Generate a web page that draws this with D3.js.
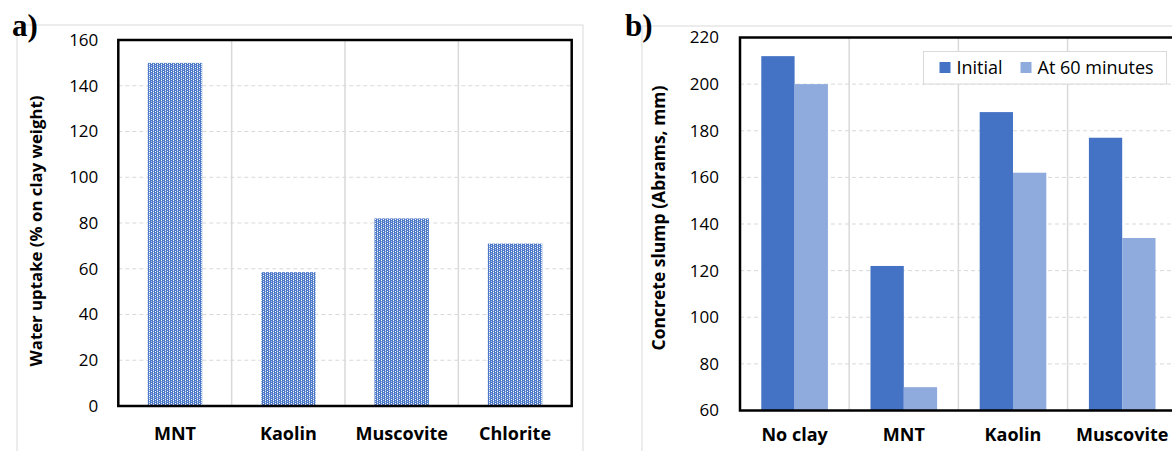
<!DOCTYPE html>
<html>
<head>
<meta charset="utf-8">
<script src="https://cdn.jsdelivr.net/npm/d3@7"></script>
<style>
  body { margin: 0; background: #ffffff; }
  svg { display: block; }
  text { font-family: "Open Sans", "Noto Sans", sans-serif; fill: #000; }
</style>
</head>
<body>
<svg id="chart" width="1172" height="451"></svg>
<script>
// Panel a: water uptake of each clay
const uptakeCategories = ["MNT", "Kaolin", "Muscovite", "Chlorite"];
const uptakeValues = [150, 58.5, 82, 71];
const uptakeTicks = [0, 20, 40, 60, 80, 100, 120, 140, 160];

// Panel b: concrete slump, initial and after 60 minutes
const slumpCategories = ["No clay", "MNT", "Kaolin", "Muscovite"];
const slumpSeries = ["Initial", "At 60 minutes"];
const slumpInitial = [212, 122, 188, 177];
const slumpAt60 = [200, 70, 162, 134];
const slumpTicks = [60, 80, 100, 120, 140, 160, 180, 200, 220];

const svg = d3.select("#chart");
const gridColor = "#d9d9d9";
const seriesColor = d3.scaleOrdinal().domain(slumpSeries).range(["#4472c4", "#8faadc"]);

// dotted-grid fill used by the water-uptake bars
const defs = svg.append("defs");
const pat = defs.append("pattern")
  .attr("id", "dotted")
  .attr("patternUnits", "userSpaceOnUse")
  .attr("width", 4).attr("height", 4);
pat.append("rect").attr("width", 4).attr("height", 4).attr("fill", "#4a78c7");
pat.append("rect").attr("x", 1).attr("y", 0).attr("width", 1).attr("height", 4).attr("fill", "#7d9fd9");
pat.append("rect").attr("x", 1).attr("y", 0).attr("width", 1).attr("height", 1).attr("fill", "#ffffff");
pat.append("rect").attr("x", 1).attr("y", 2).attr("width", 1).attr("height", 1).attr("fill", "#dfe7f6");
pat.append("rect").attr("x", 3).attr("y", 1).attr("width", 1).attr("height", 1).attr("fill", "#b4c7ea");
pat.append("rect").attr("x", 3).attr("y", 3).attr("width", 1).attr("height", 1).attr("fill", "#ffffff");

// ---------- Panel a ----------
const A = { left: 118.3, right: 571.7, top: 40, bottom: 406 };

svg.append("rect")
  .attr("x", 17).attr("y", 25).attr("width", 566).attr("height", 440)
  .attr("fill", "none").attr("stroke", gridColor).attr("stroke-width", 1);

const xA = d3.scaleBand().domain(uptakeCategories).range([A.left, A.right])
  .paddingInner(0.52).paddingOuter(0.26);
const yA = d3.scaleLinear().domain([0, 160]).range([A.bottom, A.top]);

const gA = svg.append("g");
gA.selectAll(".hgrid").data(uptakeTicks.filter(t => t > 0 && t < 160)).join("line")
  .attr("x1", A.left).attr("x2", A.right)
  .attr("y1", d => yA(d)).attr("y2", d => yA(d))
  .attr("stroke", gridColor).attr("stroke-width", 1).attr("stroke-dasharray", "4,3");
gA.selectAll(".vgrid").data(uptakeCategories.slice(1)).join("line")
  .attr("x1", d => xA(d) - xA.step() * xA.paddingInner() / 2)
  .attr("x2", d => xA(d) - xA.step() * xA.paddingInner() / 2)
  .attr("y1", A.top).attr("y2", A.bottom)
  .attr("stroke", gridColor).attr("stroke-width", 1.5);

gA.selectAll(".bar").data(uptakeCategories).join("rect")
  .attr("x", d => xA(d))
  .attr("width", xA.bandwidth())
  .attr("y", (d, i) => yA(uptakeValues[i]))
  .attr("height", (d, i) => yA(0) - yA(uptakeValues[i]))
  .attr("fill", "url(#dotted)");

gA.append("rect")
  .attr("x", A.left).attr("y", A.top)
  .attr("width", A.right - A.left).attr("height", A.bottom - A.top)
  .attr("fill", "none").attr("stroke", "#000").attr("stroke-width", 2.5);

const axA = svg.append("g").attr("transform", `translate(${A.left},0)`)
  .call(d3.axisLeft(yA).tickValues(uptakeTicks).tickSize(0).tickPadding(20));
axA.select(".domain").remove();
axA.selectAll("text").style("font-family", '"Open Sans", sans-serif').style("font-size", "17px").attr("fill", "#000");

const axAx = svg.append("g").attr("transform", `translate(0,${A.bottom})`)
  .call(d3.axisBottom(xA).tickSize(0).tickPadding(21));
axAx.select(".domain").remove();
axAx.selectAll("text").style("font-family", '"Open Sans", sans-serif').style("font-size", "18px")
  .style("font-weight", "bold").attr("fill", "#000");

svg.append("text")
  .attr("transform", "translate(42,231) rotate(-90)")
  .attr("text-anchor", "middle")
  .style("font-size", "16.8px").style("font-weight", "bold")
  .text("Water uptake (% on clay weight)");

svg.append("text").attr("x", 12).attr("y", 36)
  .style("font-family", '"Liberation Serif", serif').style("font-size", "31px").style("font-weight", "bold")
  .text("a)");

// ---------- Panel b ----------
const B = { left: 740, top: 37.5, bottom: 410.5 };
const stepB = 109.2;
const rightB = B.left + stepB * slumpCategories.length;

svg.append("rect")
  .attr("x", 642).attr("y", 26).attr("width", 700).attr("height", 440)
  .attr("fill", "none").attr("stroke", gridColor).attr("stroke-width", 1);

const xB = d3.scaleBand().domain(slumpCategories).range([B.left, rightB])
  .paddingInner(0.39).paddingOuter(0.195);
const xBs = d3.scaleBand().domain(slumpSeries).range([0, xB.bandwidth()]);
const yB = d3.scaleLinear().domain([60, 220]).range([B.bottom, B.top]);

const gB = svg.append("g");
gB.selectAll(".hgrid").data(slumpTicks.filter(t => t > 60 && t < 220)).join("line")
  .attr("x1", B.left).attr("x2", 1300)
  .attr("y1", d => yB(d)).attr("y2", d => yB(d))
  .attr("stroke", gridColor).attr("stroke-width", 1).attr("stroke-dasharray", "4,3");
gB.selectAll(".vgrid").data(slumpCategories).join("line")
  .attr("x1", d => xB(d) + xB.bandwidth() + xB.step() * xB.paddingInner() / 2)
  .attr("x2", d => xB(d) + xB.bandwidth() + xB.step() * xB.paddingInner() / 2)
  .attr("y1", B.top).attr("y2", B.bottom)
  .attr("stroke", gridColor).attr("stroke-width", 1.5);

const slumpRows = slumpCategories.map((c, i) => ({
  cat: c,
  vals: [{ s: slumpSeries[0], v: slumpInitial[i] }, { s: slumpSeries[1], v: slumpAt60[i] }]
}));
gB.selectAll(".grp").data(slumpRows).join("g")
  .attr("transform", d => `translate(${xB(d.cat)},0)`)
  .selectAll("rect").data(d => d.vals).join("rect")
  .attr("x", d => xBs(d.s))
  .attr("width", xBs.bandwidth())
  .attr("y", d => yB(d.v))
  .attr("height", d => yB(60) - yB(d.v))
  .attr("fill", d => seriesColor(d.s));

gB.append("rect")
  .attr("x", B.left).attr("y", B.top)
  .attr("width", 1300 - B.left).attr("height", B.bottom - B.top)
  .attr("fill", "none").attr("stroke", "#000").attr("stroke-width", 2.5);

const axB = svg.append("g").attr("transform", `translate(${B.left},0)`)
  .call(d3.axisLeft(yB).tickValues(slumpTicks).tickSize(0).tickPadding(21));
axB.select(".domain").remove();
axB.selectAll("text").style("font-family", '"Open Sans", sans-serif').style("font-size", "17px").attr("fill", "#000");

const axBx = svg.append("g").attr("transform", `translate(0,${B.bottom})`)
  .call(d3.axisBottom(xB).tickSize(0).tickPadding(18));
axBx.select(".domain").remove();
axBx.selectAll("text").style("font-family", '"Open Sans", sans-serif').style("font-size", "18px")
  .style("font-weight", "bold").attr("fill", "#000");

svg.append("text")
  .attr("transform", "translate(665,218) rotate(-90)")
  .attr("text-anchor", "middle")
  .style("font-size", "17.5px").style("font-weight", "bold")
  .text("Concrete slump (Abrams, mm)");

svg.append("text").attr("x", 625).attr("y", 36)
  .style("font-family", '"Liberation Serif", serif').style("font-size", "31px").style("font-weight", "bold")
  .text("b)");

// legend
const leg = svg.append("g");
leg.append("rect").attr("x", 923.5).attr("y", 51.5).attr("width", 243).attr("height", 32.5)
  .attr("fill", "#fff").attr("stroke", gridColor).attr("stroke-width", 1);
const legX = [939.5, 1020.5];
const legItems = leg.selectAll(".item").data(slumpSeries).join("g")
  .attr("transform", (d, i) => `translate(${legX[i]},0)`);
legItems.append("rect").attr("x", 0).attr("y", 62).attr("width", 11).attr("height", 11)
  .attr("fill", d => seriesColor(d));
legItems.append("text").attr("x", 17).attr("y", 74)
  .style("font-size", "18px").text(d => d);
</script>
</body>
</html>
